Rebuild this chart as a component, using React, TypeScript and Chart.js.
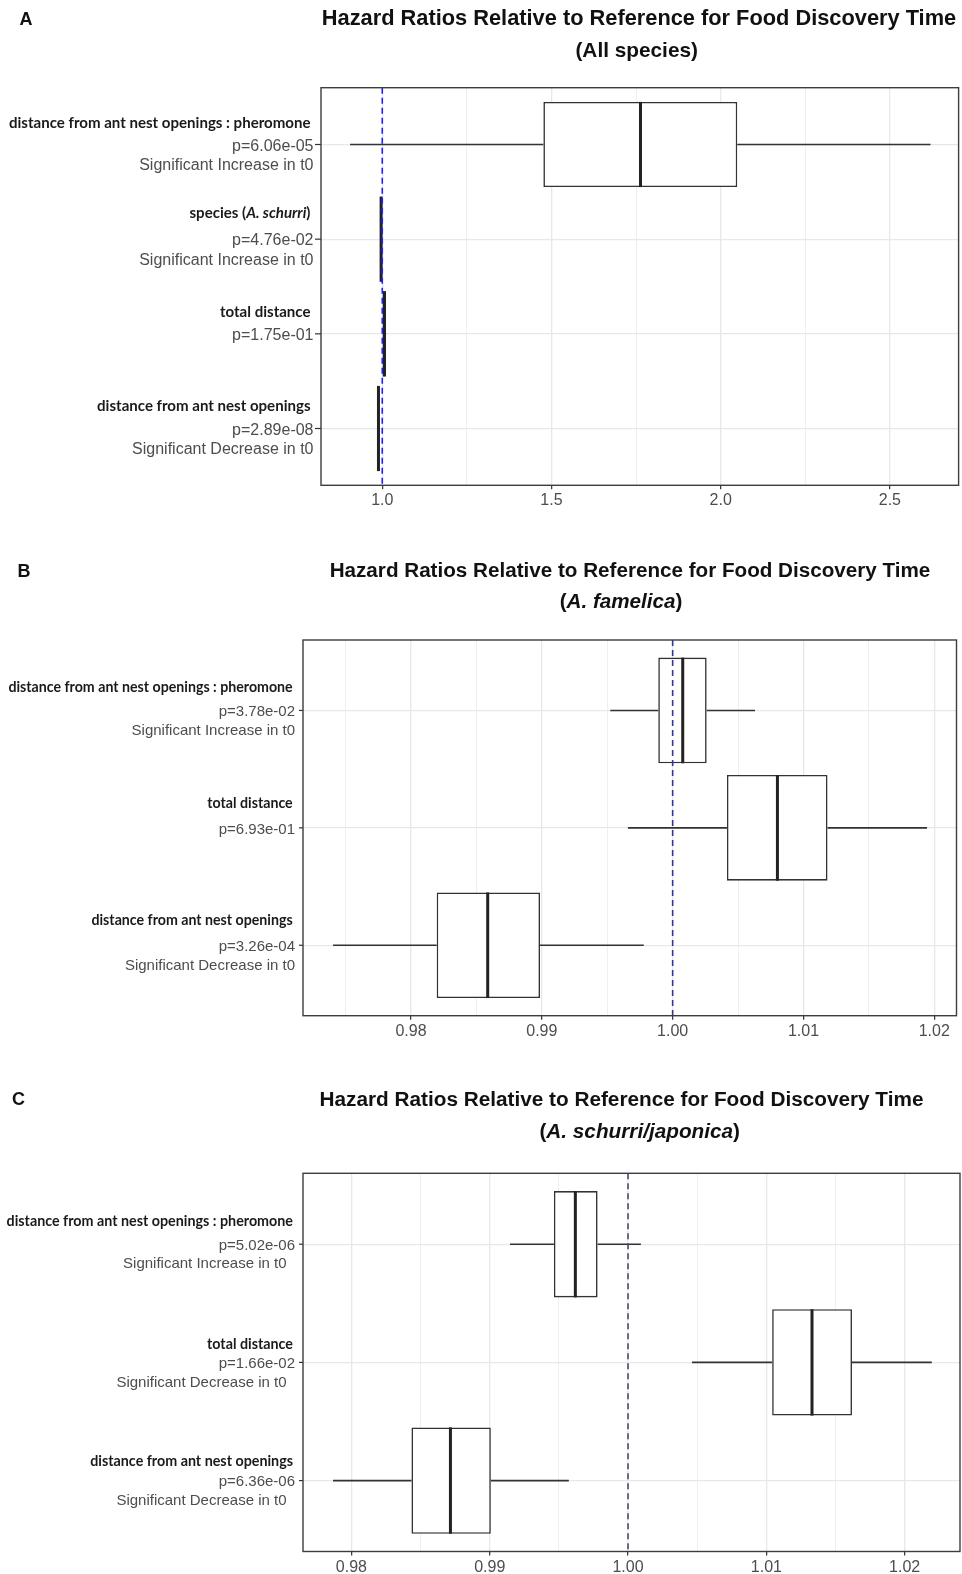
import React, { useEffect, useRef } from "react";
import { Chart, registerables } from "chart.js";
Chart.register(...registerables);

const W = 962;

// ---------------- Panel A (All species) ----------------
const termsA = [
  "distance from ant nest openings : pheromone",
  "species (*A. schurri*)",
  "total distance",
  "distance from ant nest openings",
];
const pValuesA = ["p=6.06e-05", "p=4.76e-02", "p=1.75e-01", "p=2.89e-08"];
const effectsA = ["Significant Increase in t0", "Significant Increase in t0", "", "Significant Decrease in t0"];
const whiskerLoA = [0.905, 0.9945, 1.0008, 0.9868];
const q1A = [1.476, 0.995, 1.0012, 0.9873];
const medianA = [1.763, 0.9966, 1.0062, 0.9888];
const q3A = [2.049, 0.998, 1.0112, 0.9903];
const whiskerHiA = [2.62, 0.9985, 1.0116, 0.9908];
const majorTicksA = [1.0, 1.5, 2.0, 2.5];
const tickLabelsA = ["1.0", "1.5", "2.0", "2.5"];
const minorTicksA = [1.25, 1.75, 2.25];
const titleA = ["Hazard Ratios Relative to Reference for Food Discovery Time", "(All species)"];

// ---------------- Panel B (A. famelica) ----------------
const termsB = [
  "distance from ant nest openings : pheromone",
  "total distance",
  "distance from ant nest openings",
];
const pValuesB = ["p=3.78e-02", "p=6.93e-01", "p=3.26e-04"];
const effectsB = ["Significant Increase in t0", "", "Significant Decrease in t0"];
const whiskerLoB = [0.99523, 0.99658, 0.97404];
const q1B = [0.9989, 1.00415, 0.98196];
const medianB = [1.00077, 1.00801, 0.98586];
const q3B = [1.0026, 1.01184, 0.98986];
const whiskerHiB = [1.0063, 1.01945, 0.99779];
const majorTicksB = [0.98, 0.99, 1.0, 1.01, 1.02];
const tickLabelsB = ["0.98", "0.99", "1.00", "1.01", "1.02"];
const minorTicksB = [0.975, 0.985, 0.995, 1.005, 1.015];
const titleB = ["Hazard Ratios Relative to Reference for Food Discovery Time", "(*A. famelica*)"];

// ---------------- Panel C (A. schurri/japonica) ----------------
const termsC = [
  "distance from ant nest openings : pheromone",
  "total distance",
  "distance from ant nest openings",
];
const pValuesC = ["p=5.02e-06", "p=1.66e-02", "p=6.36e-06"];
const effectsC = ["Significant Increase in t0", "Significant Decrease in t0", "Significant Decrease in t0"];
const whiskerLoC = [0.99147, 1.00462, 0.97867];
const q1C = [0.99464, 1.01042, 0.98434];
const medianC = [0.99619, 1.0133, 0.98716];
const q3C = [0.9978, 1.01619, 0.99008];
const whiskerHiC = [1.00093, 1.02196, 0.99572];
const majorTicksC = [0.98, 0.99, 1.0, 1.01, 1.02];
const tickLabelsC = ["0.98", "0.99", "1.00", "1.01", "1.02"];
const minorTicksC = [0.985, 0.995, 1.005, 1.015];
const titleC = ["Hazard Ratios Relative to Reference for Food Discovery Time", "(*A. schurri/japonica*)"];

const REF_VALUE = 1.0;

// ---------------- layout / style per panel ----------------
const panels = [
  {
    key: "A", letter: "A", canvasTop: 0, canvasH: 530,
    area: { left: 321, right: 958.6, top: 87.7, bottom: 485.3 },
    xMin: 0.819, xMax: 2.703,
    major: majorTicksA, labels: tickLabelsA, minor: minorTicksA,
    terms: termsA, pvals: pValuesA, effects: effectsA,
    lo: whiskerLoA, q1: q1A, med: medianA, q3: q3A, hi: whiskerHiA,
    title: titleA, refColor: "#1f1fff",
    letterPos: [26, 20],
    t1: { x: 639, y: 19, size: 21.8 }, t2: { x: 636.7, y: 51.2, size: 20.8 },
    lab: { boldSize: 15.05, boldRight: 310.5, boldDy: [21.3, 26.3, 21.3, 22.3], regSize: 16, regRight: 313.5, sigRight: 313.5, sigDy: 19.5, pDy: 1.8, tickLen: 6 },
  },
  {
    key: "B", letter: "B", canvasTop: 530, canvasH: 530,
    area: { left: 303, right: 956.5, top: 110, bottom: 485.7 },
    xMin: 0.97174, xMax: 1.0217,
    major: majorTicksB, labels: tickLabelsB, minor: minorTicksB,
    terms: termsB, pvals: pValuesB, effects: effectsB,
    lo: whiskerLoB, q1: q1B, med: medianB, q3: q3B, hi: whiskerHiB,
    title: titleB, refColor: "#3434a4",
    letterPos: [24, 41.7],
    t1: { x: 630, y: 41.7, size: 20.65 }, t2: { x: 621, y: 72.5, size: 20.65 },
    lab: { boldSize: 14.2, boldRight: 292.7, boldDy: [23.3, 24.3, 25], regSize: 15, regRight: 295, sigRight: 295, sigDy: 18.7, pDy: 1.7, tickLen: 4 },
  },
  {
    key: "C", letter: "C", canvasTop: 1060, canvasH: 514,
    area: { left: 303, right: 960, top: 113.3, bottom: 491.5 },
    xMin: 0.9765, xMax: 1.024,
    major: majorTicksC, labels: tickLabelsC, minor: minorTicksC,
    terms: termsC, pvals: pValuesC, effects: effectsC,
    lo: whiskerLoC, q1: q1C, med: medianC, q3: q3C, hi: whiskerHiC,
    title: titleC, refColor: "#4a4a6e",
    letterPos: [18.5, 40],
    t1: { x: 621.5, y: 40, size: 20.75 }, t2: { x: 639.7, y: 72.7, size: 20.75 },
    lab: { boldSize: 14.3, boldRight: 293, boldDy: [23.3, 18.4, 19.7], regSize: 15, regRight: 295, sigRight: 286.5, sigDy: 18.4, pDy: 1.7, tickLen: 4 },
  },
];

const SANS = '"Liberation Sans", Arial, sans-serif';
const BOLD_LBL = 'Lato, "Open Sans", sans-serif';

function segs(s: string) {
  return s.split("*").map((t, i) => ({ t, it: i % 2 === 1 })).filter((g) => g.t.length > 0);
}

function drawRich(ctx: CanvasRenderingContext2D, s: string, x: number, y: number, align: "right" | "center", size: number, family: string, weight: string, color: string) {
  const ss = segs(s);
  const font = (it: boolean) => `${it ? "italic " : ""}${weight} ${size}px ${family}`;
  let total = 0;
  for (const g of ss) {
    ctx.font = font(g.it);
    total += ctx.measureText(g.t).width;
  }
  let cx = align === "right" ? x - total : x - total / 2;
  ctx.fillStyle = color;
  ctx.textAlign = "left";
  ctx.textBaseline = "middle";
  for (const g of ss) {
    ctx.font = font(g.it);
    ctx.fillText(g.t, cx, y);
    cx += ctx.measureText(g.t).width;
  }
}

function makePlugin(p: any) {
  return {
    id: "boxPanel" + p.key,
    beforeDatasetsDraw(chart: any) {
      const { ctx, scales } = chart;
      const xs = scales.x, ys = scales.y;
      ctx.save();
      ctx.strokeStyle = "#333333";
      ctx.lineWidth = 1.6;
      p.lo.forEach((lo: number, i: number) => {
        const y = ys.getPixelForValue(i);
        ctx.beginPath();
        ctx.moveTo(xs.getPixelForValue(lo), y);
        ctx.lineTo(xs.getPixelForValue(p.q1[i]), y);
        ctx.moveTo(xs.getPixelForValue(p.q3[i]), y);
        ctx.lineTo(xs.getPixelForValue(p.hi[i]), y);
        ctx.stroke();
      });
      ctx.restore();
    },
    afterDatasetsDraw(chart: any) {
      const { ctx, scales, chartArea } = chart;
      const xs = scales.x, ys = scales.y;
      const meta = chart.getDatasetMeta(0);
      ctx.save();
      // medians
      ctx.strokeStyle = "#222222";
      ctx.lineWidth = 3;
      p.med.forEach((m: number, i: number) => {
        const el = meta.data[i];
        const { y, height } = el.getProps(["y", "height"], true);
        const x = xs.getPixelForValue(m);
        ctx.beginPath();
        ctx.moveTo(x, y - height / 2);
        ctx.lineTo(x, y + height / 2);
        ctx.stroke();
      });
      // reference dashed line
      const rx = xs.getPixelForValue(REF_VALUE);
      ctx.strokeStyle = p.refColor;
      ctx.lineWidth = 1.6;
      ctx.setLineDash([6, 4]);
      ctx.beginPath();
      ctx.moveTo(rx, chartArea.top);
      ctx.lineTo(rx, chartArea.bottom);
      ctx.stroke();
      ctx.setLineDash([]);
      // panel border
      ctx.strokeStyle = "#3d3d3d";
      ctx.lineWidth = 1.4;
      ctx.strokeRect(chartArea.left, chartArea.top, chartArea.right - chartArea.left, chartArea.bottom - chartArea.top);
      // y tick marks
      ctx.strokeStyle = "#333";
      ctx.lineWidth = 1.2;
      p.terms.forEach((_: string, i: number) => {
        const y = ys.getPixelForValue(i);
        ctx.beginPath();
        ctx.moveTo(chartArea.left - p.lab.tickLen, y);
        ctx.lineTo(chartArea.left, y);
        ctx.stroke();
      });
      ctx.restore();
    },
    afterDraw(chart: any) {
      const { ctx, scales } = chart;
      const ys = scales.y;
      const L = p.lab;
      ctx.save();
      drawRich(ctx, p.letter, p.letterPos[0], p.letterPos[1], "center", 18, SANS, "bold", "#111");
      drawRich(ctx, p.title[0], p.t1.x, p.t1.y, "center", p.t1.size, SANS, "bold", "#111");
      drawRich(ctx, p.title[1], p.t2.x, p.t2.y, "center", p.t2.size, SANS, "bold", "#111");
      p.terms.forEach((term: string, i: number) => {
        const y = ys.getPixelForValue(i);
        drawRich(ctx, term, L.boldRight, y - L.boldDy[i], "right", L.boldSize, BOLD_LBL, "bold", "#1a1a1a");
        drawRich(ctx, p.pvals[i], L.regRight, y + L.pDy, "right", L.regSize, SANS, "normal", "#4d4d4d");
        if (p.effects[i]) {
          drawRich(ctx, p.effects[i], L.sigRight, y + L.pDy + L.sigDy, "right", L.regSize, SANS, "normal", "#4d4d4d");
        }
      });
      ctx.restore();
    },
  };
}

function buildConfig(p: any): any {
  const n = p.terms.length;
  const allTicks = [...p.major, ...p.minor].sort((a: number, b: number) => a - b);
  const isMajor = (v: number) => p.major.some((m: number) => Math.abs(m - v) < 1e-9);
  return {
    type: "bar",
    data: {
      datasets: [
        {
          data: p.q1.map((q: number, i: number) => ({ x: [q, p.q3[i]], y: i })),
          backgroundColor: "#ffffff",
          borderColor: "#333333",
          borderWidth: 1.6,
          borderSkipped: false,
          categoryPercentage: 0.9,
          barPercentage: 1,
        },
      ],
    },
    options: {
      indexAxis: "y",
      responsive: false,
      animation: false,
      events: [],
      layout: { padding: { left: 0, top: p.area.top, right: W - p.area.right, bottom: 0 } },
      plugins: { legend: { display: false }, tooltip: { enabled: false }, title: { display: false } },
      scales: {
        x: {
          type: "linear",
          position: "bottom",
          min: p.xMin,
          max: p.xMax,
          offset: false,
          afterBuildTicks: (s: any) => {
            s.ticks = allTicks.map((v: number) => ({ value: v }));
          },
          afterFit: (s: any) => {
            s.height = p.canvasH - p.area.bottom;
          },
          grid: {
            offset: false,
            color: "#E8E8E8",
            lineWidth: (c: any) => (c.tick && isMajor(c.tick.value) ? 1.3 : 0.7),
            drawTicks: true,
            tickLength: 4,
            tickWidth: 1.2,
            tickColor: (c: any) => (c.tick && isMajor(c.tick.value) ? "#333333" : "rgba(0,0,0,0)"),
          },
          border: { display: false },
          ticks: {
            autoSkip: false,
            maxRotation: 0,
            padding: 2,
            color: "#4d4d4d",
            font: { family: SANS, size: 16 },
            callback: (v: number) => {
              const idx = p.major.findIndex((m: number) => Math.abs(m - v) < 1e-9);
              return idx >= 0 ? p.labels[idx] : "";
            },
          },
        },
        y: {
          type: "linear",
          min: -0.6,
          max: n - 1 + 0.6,
          reverse: true,
          offset: false,
          afterBuildTicks: (s: any) => {
            s.ticks = p.terms.map((_: string, i: number) => ({ value: i }));
          },
          afterFit: (s: any) => {
            s.width = p.area.left;
          },
          grid: { offset: false, color: "#E8E8E8", lineWidth: 1.3, drawTicks: false },
          border: { display: false },
          ticks: { display: false },
        },
      },
    },
    plugins: [makePlugin(p)],
  };
}

function PanelChart({ p }: { p: any }) {
  const ref = useRef<HTMLCanvasElement>(null);
  useEffect(() => {
    const chart = new Chart(ref.current as HTMLCanvasElement, buildConfig(p));
    return () => chart.destroy();
  }, [p]);
  return (
    <canvas
      ref={ref}
      width={W}
      height={p.canvasH}
      style={{ position: "absolute", left: 0, top: p.canvasTop, width: W, height: p.canvasH }}
    />
  );
}

export default function App() {
  return (
    <div style={{ position: "absolute", left: 0, top: 0, width: W, height: 1574, background: "#ffffff", overflow: "hidden" }}>
      {panels.map((p) => (
        <PanelChart key={p.key} p={p} />
      ))}
    </div>
  );
}
